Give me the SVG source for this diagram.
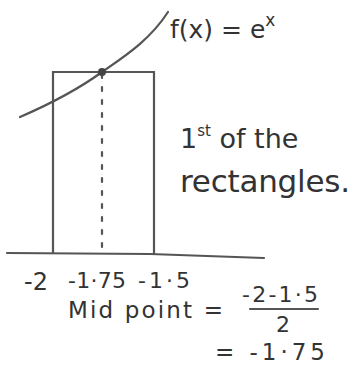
<svg xmlns="http://www.w3.org/2000/svg" width="356" height="365" viewBox="0 0 356 365">
<style>
.ln{fill:none;stroke:#555;stroke-width:2.2;stroke-linecap:round}
.t{font-family:"DejaVu Sans",sans-serif;fill:#333}
</style>
<rect width="356" height="365" fill="#fff"/>
<g id="axis"><path class="ln" d="M7,253 L150,254 L264,258"/></g>
<g id="rectangle"><path class="ln" d="M53,253 L53,72 L154,72 L154,254"/></g>
<g id="curve"><path class="ln" d="M20,117 C50,104 80,88 102,72 C125,56 150,40 168,12"/></g>
<g id="connectors"><line class="ln" x1="102" y1="74" x2="102" y2="253" stroke-dasharray="4,9"/></g>
<g id="point"><circle cx="102" cy="72" r="4" fill="#444"/></g>
<text class="t" x="170" y="38" font-size="25">f(x) = e<tspan font-size="17" dy="-12">x</tspan></text>
<text class="t" x="180" y="148" font-size="27">1<tspan font-size="15" dy="-12">st</tspan><tspan dy="12"> of the</tspan></text>
<text class="t" x="180" y="192" font-size="31" textLength="170">rectangles.</text>
<text class="t" x="24" y="290" font-size="24">-2</text>
<text class="t" x="68" y="288" font-size="22" textLength="58">-1·75</text>
<text class="t" x="138" y="288" font-size="22" textLength="52">-1·5</text>
<text class="t" x="68" y="318" font-size="23" textLength="155">Mid point =</text>
<text class="t" x="242" y="302" font-size="22" textLength="76">-2-1·5</text>
<line class="ln" x1="250" y1="309" x2="318" y2="309"/>
<text class="t" x="276" y="332" font-size="22">2</text>
<text class="t" x="215" y="360" font-size="23" textLength="110">= -1·75</text>
</svg>
